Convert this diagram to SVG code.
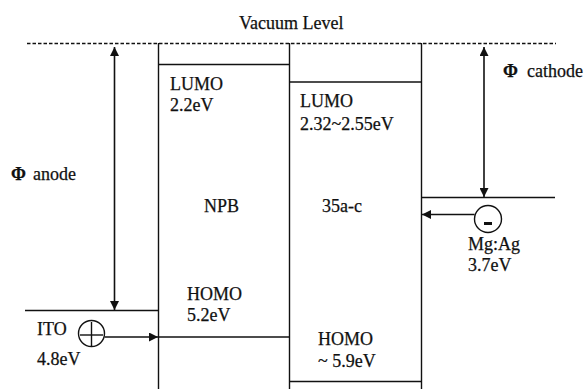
<svg xmlns="http://www.w3.org/2000/svg" width="587" height="389" viewBox="0 0 587 389">
<style>
  .ln { stroke:#111; stroke-width:1.4; fill:none; }
  .ar { stroke:#111; stroke-width:1.6; fill:none; }
  .t { font-family:"Liberation Serif","Times New Roman",serif; font-size:18px; fill:#111; stroke:#111; stroke-width:0.25; }
  .phi { font-weight:bold; }
</style>
<defs>
  <marker id="ah" viewBox="0 0 10 10" refX="10" refY="5" markerWidth="11" markerHeight="9" orient="auto-start-reverse" markerUnits="userSpaceOnUse">
    <path d="M0,0 L10,5 L0,10 z" fill="#111"/>
  </marker>
</defs>
<rect width="587" height="389" fill="#fff"/>

<g id="vacuum">
  <line x1="27" y1="43.5" x2="556" y2="43.5" stroke="#111" stroke-width="1.3" stroke-dasharray="3.5,2"/>
  <text class="t" x="239" y="29">Vacuum Level</text>
</g>

<g id="npb">
  <line class="ln" x1="158.5" y1="43" x2="158.5" y2="389"/>
  <line class="ln" x1="289.5" y1="43" x2="289.5" y2="389"/>
  <line class="ln" x1="158" y1="64.5" x2="289.5" y2="64.5"/>
  <line class="ln" x1="158" y1="337" x2="289.5" y2="337"/>
  <text class="t" x="170" y="90">LUMO</text>
  <text class="t" x="170" y="111">2.2eV</text>
  <text class="t" x="204" y="212">NPB</text>
  <text class="t" x="187" y="300">HOMO</text>
  <text class="t" x="187" y="321">5.2eV</text>
</g>

<g id="compound35">
  <line class="ln" x1="421.5" y1="43" x2="421.5" y2="389"/>
  <line class="ln" x1="289.5" y1="82" x2="421.5" y2="82"/>
  <line class="ln" x1="289.5" y1="381.5" x2="421.5" y2="381.5"/>
  <text class="t" x="300" y="107">LUMO</text>
  <text class="t" x="300" y="130">2.32~2.55eV</text>
  <text class="t" x="322" y="212">35a-c</text>
  <text class="t" x="318" y="345">HOMO</text>
  <text class="t" x="318" y="367">~ 5.9eV</text>
</g>

<g id="ito">
  <line class="ln" x1="25" y1="310.5" x2="158.5" y2="310.5"/>
  <circle cx="91.5" cy="333.5" r="13" fill="none" stroke="#111" stroke-width="1.4"/>
  <line class="ln" x1="80" y1="335" x2="103" y2="335"/>
  <line class="ln" x1="91.5" y1="322" x2="91.5" y2="346"/>
  <text class="t" x="37" y="335">ITO</text>
  <text class="t" x="37" y="365">4.8eV</text>
  <text class="t" y="180"><tspan class="phi" x="11">Φ</tspan><tspan x="33">anode</tspan></text>
</g>

<g id="mgag">
  <line class="ln" x1="421.5" y1="197.5" x2="555" y2="197.5"/>
  <circle cx="488" cy="219" r="13.5" fill="none" stroke="#111" stroke-width="1.4"/>
  <rect x="484" y="222" width="8" height="3" fill="#111"/>
  <text class="t" x="468" y="250">Mg:Ag</text>
  <text class="t" x="468" y="271">3.7eV</text>
  <text class="t" y="77"><tspan class="phi" x="503">Φ</tspan><tspan x="527">cathode</tspan></text>
</g>

<g id="connectors">
  <line class="ar" x1="114.5" y1="47" x2="114.5" y2="310" marker-start="url(#ah)" marker-end="url(#ah)"/>
  <line class="ar" x1="484" y1="47" x2="484" y2="197" marker-start="url(#ah)" marker-end="url(#ah)"/>
  <line class="ln" x1="104.5" y1="337" x2="158" y2="337" marker-end="url(#ah)"/>
  <line class="ln" x1="474.5" y1="214.5" x2="422" y2="214.5" marker-end="url(#ah)"/>
</g>
</svg>
